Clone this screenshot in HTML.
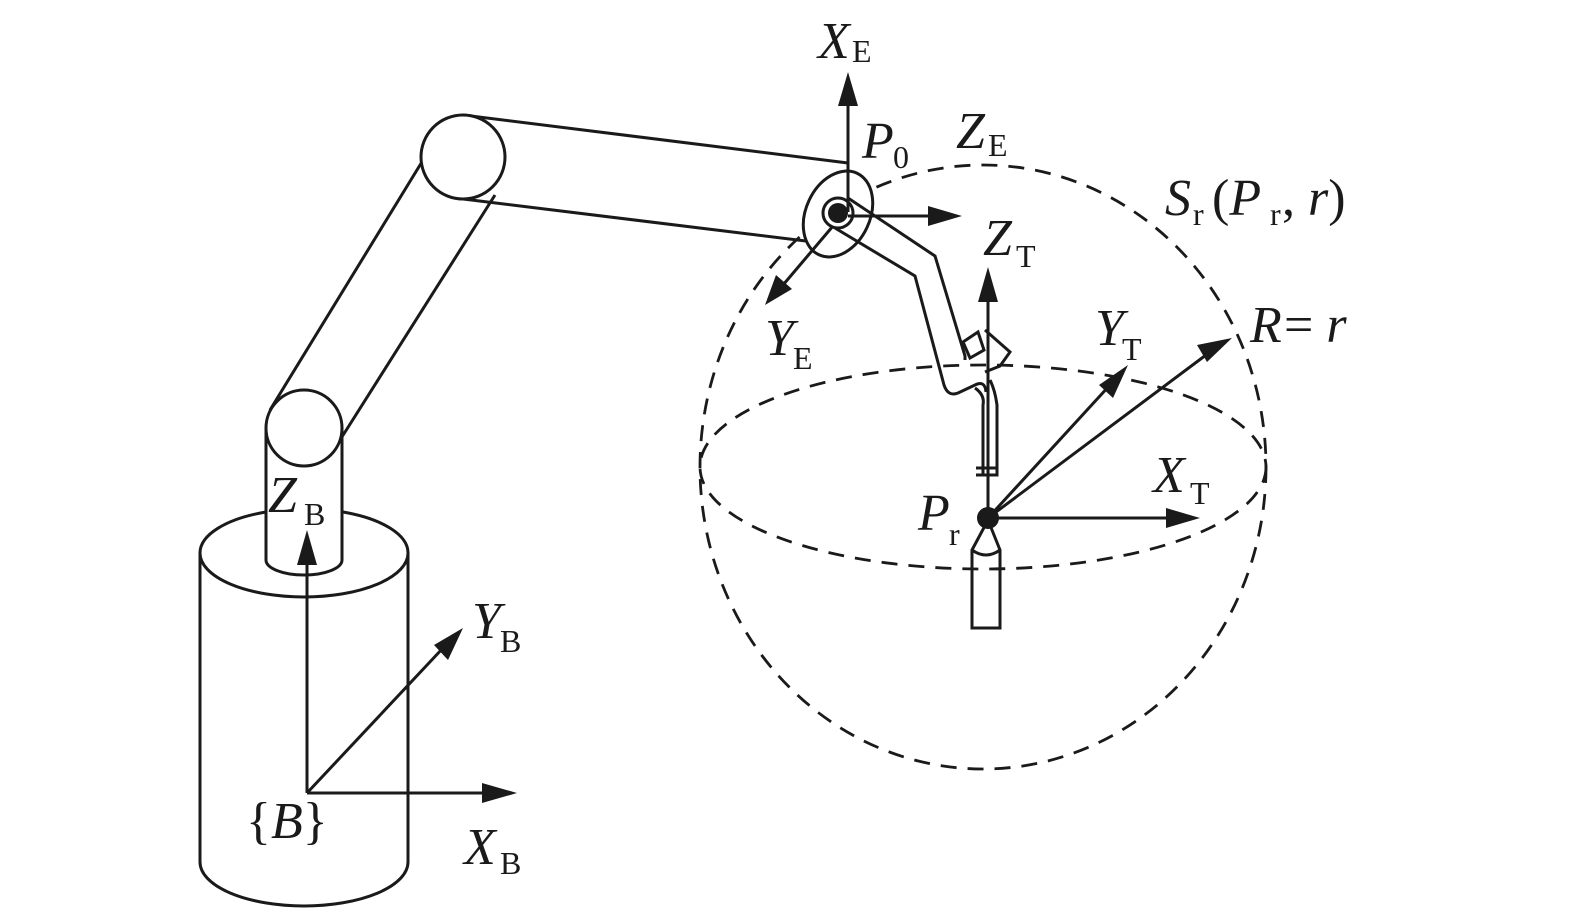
<!DOCTYPE html>
<html><head><meta charset="utf-8"><style>
html,body{margin:0;padding:0;background:#fff}
svg{display:block}
text{font-family:"Liberation Serif","Times New Roman",serif;fill:#1a1a1a}
.i{font-style:italic}
</style></head><body>
<svg width="1575" height="919" viewBox="0 0 1575 919" xmlns="http://www.w3.org/2000/svg">
<g fill="none" stroke="#1a1a1a" stroke-width="3">
<path d="M200,553 L200,862 A104,44 0 0 0 408,862 L408,553"/>
<path d="M200,553 A104,44 0 0 1 266,512 M343,512 A104,44 0 0 1 408,553 A104,44 0 0 1 200,553"/>
<path d="M266,427 L266,560 A38,15 0 0 0 342,560 L342,427" fill="#fff"/>
<path d="M270,410 L428,152 M340,440 L495,195"/>
<circle cx="304" cy="428" r="38" fill="#fff"/>
<path d="M463,115 L848,163 M455,198 L822,243"/>
<circle cx="463" cy="157" r="42" fill="#fff"/>
<g stroke-dasharray="16,11" stroke-width="2.8">
<ellipse cx="983" cy="467" rx="283" ry="302"/>
<ellipse cx="983" cy="467" rx="283" ry="102"/>
</g>
<ellipse cx="838" cy="214" rx="32" ry="45" transform="rotate(25 838 214)" fill="#fff"/>
<circle cx="838" cy="213" r="15"/>
<path d="M848,198 L935,256 L965,356 L965,360" />
<path d="M835,228 L915,276 L944,385 Q948,397 958,393 L975,385 Q985,380 986,392" />
<path d="M963,342 L978,332 L984,350 L970,358 Z" fill="#fff"/>
<path d="M985,330 L1010,352 L1000,366 L985,372"/>
<path d="M975,388 Q985,395 983,405 L983,475 L997,475 L997,405 Q995,390 990,380"/>
<path d="M976,468 L997,468 M976,475 L997,475"/>
<path d="M988,520 L972,550 L972,628 L1000,628 L1000,550 L988,520"/>
<path d="M972,550 Q986,560 1000,550"/>
<path d="M848,212 L848,100 M848,216 L930,216 M833,226 L783,285"/>
<path d="M988,518 L988,295 M988,518 L1170,518 M988,518 L1110,385 M988,518 L1210,352"/>
<path d="M307,793 L307,560 M307,793 L490,793 M307,793 L443,648"/>
</g>
<g fill="#1a1a1a">
<circle cx="838" cy="213" r="10"/>
<circle cx="988" cy="518" r="11"/>
<polygon points="848,72 838,106 858,106"/>
<polygon points="962,216 928,206 928,226"/>
<polygon points="765,305 776,275 792,289"/>
<polygon points="988,267 978,302 998,302"/>
<polygon points="1200,518 1166,508 1166,528"/>
<polygon points="1128,365 1099,385 1113,398"/>
<polygon points="1232,338 1197,345 1207,362"/>
<polygon points="307,530 297,565 317,565"/>
<polygon points="517,793 482,783 482,803"/>
<polygon points="463,628 434,645 448,660"/>
</g>
<g font-size="52">
<text x="818" y="58" class="i">X</text><text x="852" y="62" font-size="32">E</text>
<text x="862" y="158" class="i">P</text><text x="893" y="168" font-size="32">0</text>
<text x="956" y="148" class="i">Z</text><text x="988" y="156" font-size="32">E</text>
<text x="1165" y="215" class="i">S</text><text x="1193" y="225" font-size="32">r</text>
<text x="1212" y="215">(<tspan class="i">P</tspan></text><text x="1270" y="225" font-size="32">r</text><text x="1282" y="215">, <tspan class="i">r</tspan>)</text>
<text x="983" y="255" class="i">Z</text><text x="1016" y="267" font-size="32">T</text>
<text x="765" y="355" class="i">Y</text><text x="793" y="369" font-size="32">E</text>
<text x="1095" y="345" class="i">Y</text><text x="1122" y="360" font-size="32">T</text>
<text x="1250" y="342" class="i">R</text><text x="1284" y="342">= <tspan class="i">r</tspan></text>
<text x="1153" y="492" class="i">X</text><text x="1190" y="504" font-size="32">T</text>
<text x="918" y="530" class="i">P</text><text x="949" y="545" font-size="32">r</text>
<text x="268" y="512" class="i">Z</text><text x="304" y="525" font-size="32">B</text>
<text x="472" y="638" class="i">Y</text><text x="500" y="652" font-size="32">B</text>
<text x="464" y="864" class="i">X</text><text x="500" y="874" font-size="32">B</text>
<text x="246" y="838">{<tspan class="i">B</tspan>}</text>
</g>
</svg>
</body></html>
